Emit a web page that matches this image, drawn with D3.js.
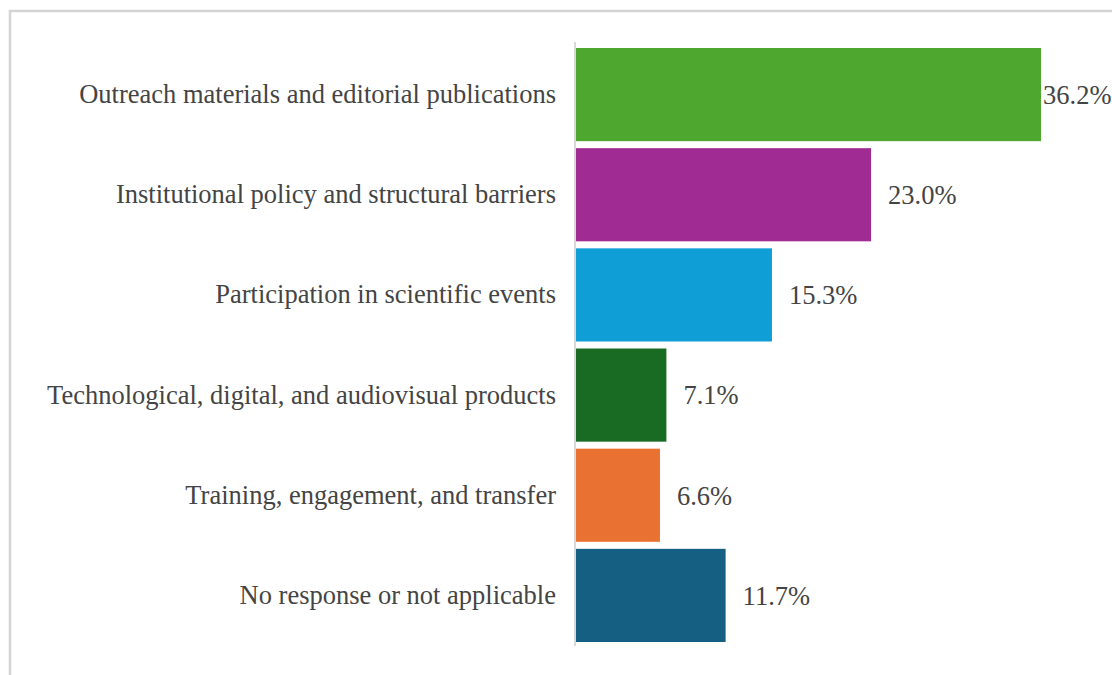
<!DOCTYPE html>
<html>
<head>
<meta charset="utf-8">
<script src="https://cdn.jsdelivr.net/npm/d3@7"></script>
<style>
  html, body { margin: 0; padding: 0; background: #fff; }
  svg { display: block; }
</style>
</head>
<body>
<svg id="chart" width="1112" height="675"></svg>
<script>
// Share of responses by category (percent)
const categories = [
  "Outreach materials and editorial publications",
  "Institutional policy and structural barriers",
  "Participation in scientific events",
  "Technological, digital, and audiovisual products",
  "Training, engagement, and transfer",
  "No response or not applicable"
];
const values = [36.2, 23.0, 15.3, 7.1, 6.6, 11.7];
const colors = ["#4EA72E", "#A02B93", "#0F9ED5", "#196B24", "#E97132", "#156082"];

const svg = d3.select("#chart");
const W = 1112, H = 675;
const FONT = "'Liberation Serif', 'DejaVu Serif', serif";
const FONT_SIZE = 26.5;

// Outer frame (top and left edges visible, the rest runs off the page)
svg.append("rect")
  .attr("x", 10).attr("y", 11)
  .attr("width", W + 20).attr("height", H + 20)
  .attr("fill", "#fff")
  .attr("stroke", "#d4d4d4")
  .attr("stroke-width", 2.5);

const x0 = 575;
const x = d3.scaleLinear().domain([0, 36.2]).range([x0, 1041]);
const y = d3.scaleBand().domain(categories).range([45, 645]).paddingInner(0.07).paddingOuter(0.03);

// Bars
svg.append("g").selectAll("rect")
  .data(categories)
  .join("rect")
  .attr("x", x(0))
  .attr("y", d => y(d))
  .attr("width", (d, i) => x(values[i]) - x(0))
  .attr("height", y.bandwidth())
  .attr("fill", (d, i) => colors[i]);

// Category axis
const axis = d3.axisLeft(y).tickSize(0).tickPadding(19);
const gAxis = svg.append("g").attr("transform", `translate(${x0},0)`).call(axis);
gAxis.select(".domain").attr("stroke", "#d9d9d9").attr("stroke-width", 2)
  .attr("d", "M0,42V646");
gAxis.selectAll("text")
  .attr("font-family", FONT)
  .attr("font-size", FONT_SIZE)
  .attr("fill", "#444");

// Value labels (the longest bar's label is pulled in so it stays on the page)
svg.append("g").selectAll("text")
  .data(categories)
  .join("text")
  .attr("x", (d, i) => Math.min(x(values[i]) + 17, 1043))
  .attr("y", d => y(d) + y.bandwidth() / 2)
  .attr("dy", "0.35em")
  .attr("font-family", FONT)
  .attr("font-size", FONT_SIZE)
  .attr("fill", "#444")
  .text((d, i) => values[i].toFixed(1) + "%");
</script>
</body>
</html>
